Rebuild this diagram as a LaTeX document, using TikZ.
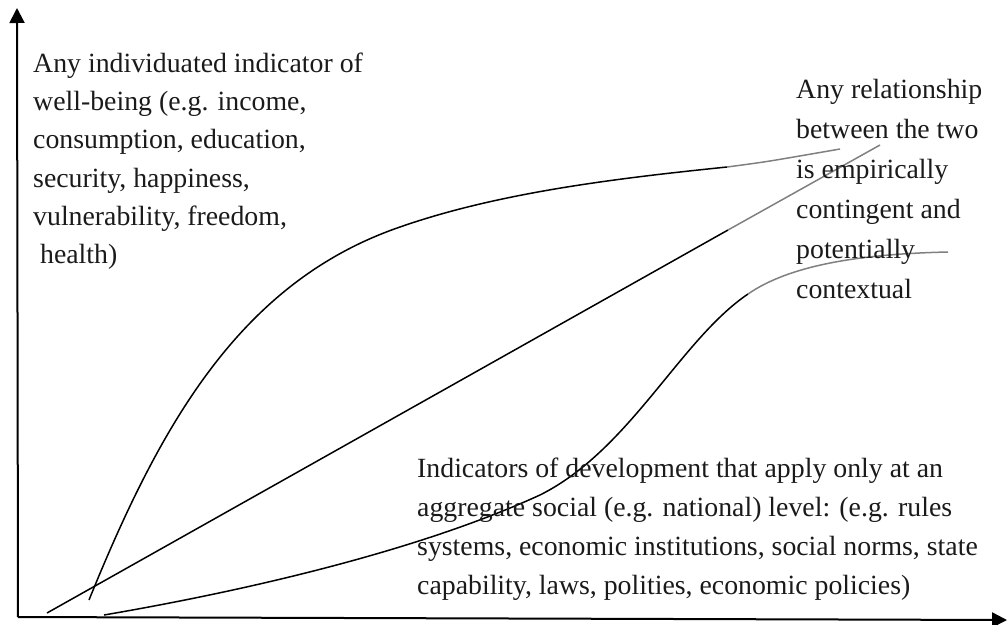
\documentclass[tikz,border=0pt]{standalone}
\usepackage{fontspec}
\setmainfont{Liberation Serif}
\usetikzlibrary{arrows.meta}
\definecolor{txt}{HTML}{1A1A1A}
\definecolor{fade}{HTML}{808080}
\tikzset{
  axis/.style={line width=2pt,-{Triangle[length=15pt,width=15pt]}},
  curve/.style={line width=1.5pt,black},
  tail/.style={line width=1.5pt,fade},
  ln/.style={anchor=base west,inner sep=0pt,font=\fontsize{27.8}{38}\selectfont,text=txt}
}
\begin{document}
\begin{tikzpicture}[x=1pt,y=-1pt]
\useasboundingbox (0,0) rectangle (1008,624);
\coordinate (O) at (18,617);
\coordinate (Ytip) at (17,8);
\coordinate (Xtip) at (1007,620);
\draw[axis] (O) -- (Ytip);
\draw[axis] (O) -- (Xtip);
% upper curve
\coordinate (u0) at (89,600);
\coordinate (u1) at (727,167);
\draw[curve] (u0) .. controls (160,425) and (240,282) .. (400,227)
  .. controls (500,192) and (620,178) .. (u1);
\draw[tail] plot[smooth] coordinates {(u1) (770,161) (840,149)};
% straight line
\coordinate (s0) at (47,613);
\coordinate (s1) at (728,230);
\coordinate (s2) at (880,145);
\draw[curve] (s0) -- (s1);
\draw[tail] (s1) -- (s2);
% lower curve
\coordinate (w0) at (104,615);
\coordinate (w1) at (748,294);
\draw[curve] (w0) .. controls (250,590) and (420,550) .. (540,495)
  .. controls (630,450) and (680,340) .. (w1);
\draw[tail] (w1) .. controls (790,265) and (860,254) .. (948,252);
% left text
\node[ln] (a1) at (33,72) {Any individuated indicator of};
\node[ln] (a2) at (33,110) {well-being (e.g. income,};
\node[ln] (a3) at (33,148) {consumption, education,};
\node[ln] (a4) at (33,187) {security, happiness,};
\node[ln] (a5) at (33,225) {vulnerability, freedom,};
\node[ln] (a6) at (33,263) {\ health)};
% right text
\node[ln] (b1) at (796,98) {Any relationship};
\node[ln] (b2) at (796,138) {between the two};
\node[ln] (b3) at (796,178) {is empirically};
\node[ln] (b4) at (796,218) {contingent and};
\node[ln] (b5) at (796,258) {potentially};
\node[ln] (b6) at (796,298) {contextual};
% bottom text
\node[ln] (c1) at (417,477) {Indicators of development that apply only at an};
\node[ln] (c2) at (417,516) {aggregate social (e.g. national) level: (e.g. rules};
\node[ln] (c3) at (417,555) {systems, economic institutions, social norms, state};
\node[ln] (c4) at (417,594) {capability, laws, polities, economic policies)};
\end{tikzpicture}
\end{document}
